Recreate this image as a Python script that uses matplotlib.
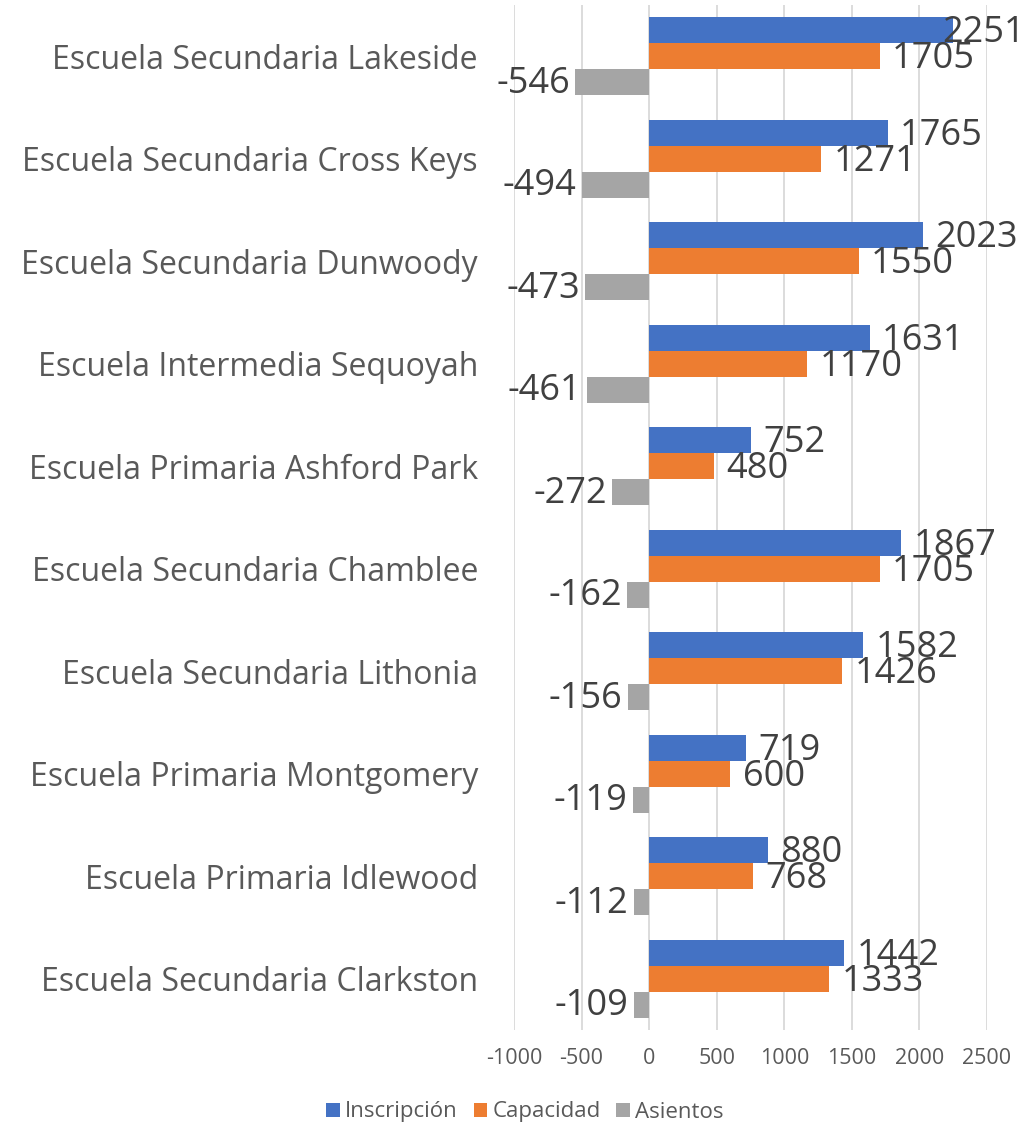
import matplotlib
matplotlib.use("Agg")
import matplotlib.pyplot as plt
import numpy as np
from matplotlib.patches import Patch

categories = ["Escuela Secundaria Lakeside", "Escuela Secundaria Cross Keys",
              "Escuela Secundaria Dunwoody", "Escuela Intermedia Sequoyah",
              "Escuela Primaria Ashford Park", "Escuela Secundaria Chamblee",
              "Escuela Secundaria Lithonia", "Escuela Primaria Montgomery",
              "Escuela Primaria Idlewood", "Escuela Secundaria Clarkston"]
inscripcion = [2251, 1765, 2023, 1631, 752, 1867, 1582, 719, 880, 1442]
capacidad = [1705, 1271, 1550, 1170, 480, 1705, 1426, 600, 768, 1333]
asientos = [-546, -494, -473, -461, -272, -162, -156, -119, -112, -109]
series_names = ["Inscripción", "Capacidad", "Asientos"]
colors = ["#4472C4", "#ED7D31", "#A5A5A5"]
xticks = [-1000, -500, 0, 500, 1000, 1500, 2000, 2500]

plt.rcParams['font.family'] = ['Open Sans', 'DejaVu Sans']

W, H = 1026, 1127
fig = plt.figure(figsize=(W / 100, H / 100), dpi=100)
ax = fig.add_axes([514 / W, 1 - 1030 / H, (987 - 514) / W, (1030 - 5) / H])

y = np.arange(len(categories))
bw = 0.254
series = [inscripcion, capacidad, asientos]
texts = []
for k, (vals, c) in enumerate(zip(series, colors)):
    pos = y + (k - 1) * bw
    ax.barh(pos, vals, height=bw, color=c, zorder=3)
    for p, v in zip(pos, vals):
        if v >= 0:
            t = ax.annotate(str(v), (v, p), xytext=(9, -2.2), textcoords='offset points',
                            ha='left', va='center', fontsize=26, color='#404040', zorder=4)
        else:
            t = ax.annotate(str(v), (v, p), xytext=(-4, -1), textcoords='offset points',
                            ha='right', va='center', fontsize=26, color='#404040', zorder=4)
        texts.append(t)

ax.set_xlim(-1000, 2500)
ax.set_ylim(len(categories) - 0.5, -0.5)
ax.set_xticks(xticks)
ax.set_xticklabels([str(t) for t in xticks], fontsize=15.5, color='#595959')
ax.set_yticks(y)
ax.set_yticklabels(categories, fontsize=23, color='#595959')
ax.tick_params(axis='both', length=0)
ax.tick_params(axis='y', pad=26)
ax.tick_params(axis='x', pad=13)
ax.grid(axis='x', color='#D9D9D9', linewidth=1.3, zorder=0)
for s in ax.spines.values():
    s.set_visible(False)

handles = [Patch(facecolor=c, label=n) for c, n in zip(colors, series_names)]
fig.legend(handles=handles, loc='center', bbox_to_anchor=(525 / W, 1 - 1112 / H), ncol=3,
           frameon=False, fontsize=16, handlelength=0.6, handleheight=0.6,
           handletextpad=0.25, columnspacing=0.7, labelcolor='#595959')

# keep data labels inside the figure
fig.canvas.draw()
r = fig.canvas.get_renderer()
for t in texts:
    bb = t.get_window_extent(r)
    if bb.x1 > W:
        ox, oy = t.xyann
        t.xyann = (ox - (bb.x1 - W + 1) * 72 / 100, oy)

fig.savefig("out.png", dpi=100)
